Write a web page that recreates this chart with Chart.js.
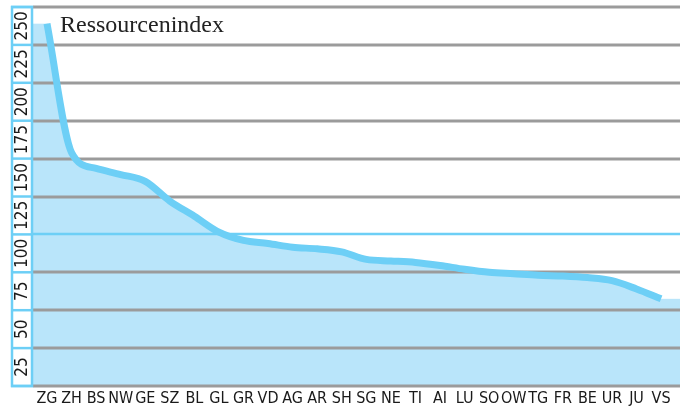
<!DOCTYPE html>
<html>
<head>
<meta charset="utf-8">
<script src="https://cdn.jsdelivr.net/npm/chart.js@4"></script>
<style>
  html, body { margin: 0; padding: 0; background: #fff; }
  #wrap { width: 680px; height: 407px; }
</style>
</head>
<body>
<div id="wrap"><canvas id="ressChart"></canvas></div>
<script>
const cantons = ['ZG','ZH','BS','NW','GE','SZ','BL','GL','GR','VD','AG','AR','SH','SG','NE','TI','AI','LU','SO','OW','TG','FR','BE','UR','JU','VS'];
const index = [239, 154, 143.5, 139.5, 135, 122, 112, 101.5, 96, 94, 91.5, 90.5, 88.5, 83.5, 82.5, 81.5, 79.5, 77, 75, 74, 73, 72.5, 71.5, 69.5, 64, 57.5];
const yTicks = [250, 225, 200, 175, 150, 125, 100, 75, 50, 25, 0];
const title = 'Ressourcenindex';

const BLUE = '#6dcff6';
const FILL = '#b9e5fa';
const GREY = '#9b9b9b';
const condensed = '"DejaVu Sans Condensed", "Liberation Sans Narrow", sans-serif';

const points = index.map((v, i) => ({ x: i, y: v }));

// fill under the curve, extended to the plot edges; then grid; then the line on top
const decor = {
    id: 'decor',
    beforeDatasetsDraw(chart) {
        const { ctx, chartArea: a, scales: { x, y } } = chart;
        ctx.save();
        ctx.fillStyle = FILL;
        const x0 = x.getPixelForValue(0), xn = x.getPixelForValue(index.length - 1);
        ctx.fillRect(a.left, y.getPixelForValue(index[0]), x0 - a.left + 1, a.bottom - y.getPixelForValue(index[0]));
        ctx.fillRect(xn - 1, y.getPixelForValue(index[index.length - 1]), a.right - xn + 1, a.bottom - y.getPixelForValue(index[index.length - 1]));
        ctx.restore();
    },
    afterDatasetDraw(chart, args) {
        if (args.index !== 1) return;
        const { ctx, chartArea: a, scales: { y } } = chart;
        ctx.save();
        yTicks.forEach(v => {
            const py = Math.round(y.getPixelForValue(v));
            ctx.strokeStyle = v === 100 ? BLUE : GREY;
            ctx.lineWidth = v === 100 ? 2.5 : 3;
            ctx.beginPath();
            ctx.moveTo(a.left, py);
            ctx.lineTo(a.right, py);
            ctx.stroke();
        });
        ctx.restore();
    },
    afterDraw(chart) {
        const { ctx, chartArea: a, scales: { y } } = chart;
        ctx.save();
        // y label strip
        const l = 11, r = a.left;
        const top = y.getPixelForValue(250), bot = y.getPixelForValue(0);
        ctx.strokeStyle = BLUE;
        ctx.lineWidth = 2.5;
        ctx.strokeRect(l + 1, top, r - l - 2, bot - top);
        yTicks.forEach(v => {
            const py = y.getPixelForValue(v);
            ctx.beginPath();
            ctx.moveTo(l, py);
            ctx.lineTo(r, py);
            ctx.stroke();
        });
        ctx.fillStyle = '#1a1a1a';
        ctx.font = '17px ' + condensed;
        ctx.textAlign = 'center';
        ctx.textBaseline = 'middle';
        yTicks.filter(v => v > 0).forEach(v => {
            const py = y.getPixelForValue(v - 12.5);
            ctx.save();
            ctx.translate((l + r) / 2 + 0.5, py);
            ctx.rotate(-Math.PI / 2);
            ctx.fillText(String(v), 0, 0);
            ctx.restore();
        });
        // title
        ctx.font = '24px "Liberation Serif", serif';
        ctx.fillStyle = '#222';
        ctx.textAlign = 'left';
        ctx.textBaseline = 'alphabetic';
        ctx.fillText(title, 60, 32);
        ctx.restore();
    }
};

new Chart(document.getElementById('ressChart'), {
    type: 'line',
    data: {
        datasets: [{
            data: points,
            borderColor: BLUE,
            borderWidth: 7,
            borderCapStyle: 'butt',
            fill: false,
            pointRadius: 0,
            cubicInterpolationMode: 'monotone',
            order: 1
        }, {
            data: points,
            borderWidth: 0,
            backgroundColor: FILL,
            fill: 'origin',
            pointRadius: 0,
            cubicInterpolationMode: 'monotone',
            order: 2
        }]
    },
    options: {
        responsive: true,
        maintainAspectRatio: false,
        animation: false,
        layout: { padding: { top: 7, left: 0, right: 0, bottom: 0 } },
        plugins: { legend: { display: false }, tooltip: { enabled: false } },
        scales: {
            x: {
                type: 'linear',
                min: -0.57,
                max: 25.77,
                grid: { display: false, drawTicks: false },
                border: { display: false },
                afterBuildTicks: s => { s.ticks = cantons.map((c, i) => ({ value: i })); },
                afterFit: s => { s.height = 21; },
                ticks: {
                    autoSkip: false,
                    maxRotation: 0,
                    padding: 3,
                    color: '#1a1a1a',
                    font: { family: condensed, size: 16 },
                    callback: v => cantons[v]
                }
            },
            y: {
                min: 0,
                max: 250,
                grid: { display: false },
                border: { display: false },
                ticks: { display: false, stepSize: 25 },
                afterFit: s => { s.width = 33; }
            }
        }
    },
    plugins: [decor]
});
</script>
</body>
</html>
